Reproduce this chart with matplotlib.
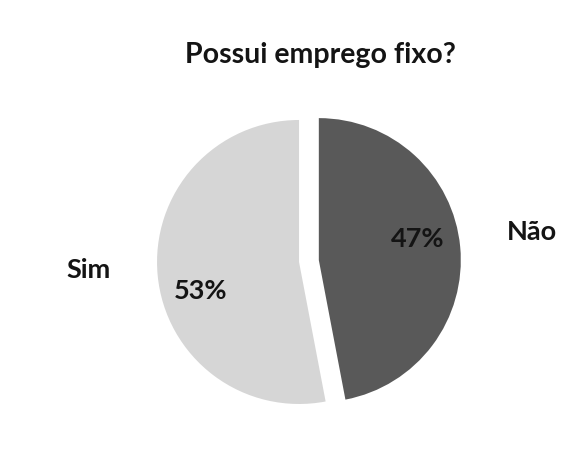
import matplotlib
matplotlib.use("Agg")
import matplotlib.pyplot as plt

categorias = ['Não', 'Sim']
valores = [47, 53]
cores = ['#595959', '#d6d6d6']
titulo = 'Possui emprego fixo?'

plt.rcParams['font.family'] = ['Lato', 'DejaVu Sans']

fig = plt.figure(figsize=(5.61, 4.49), dpi=100)
ax = fig.add_axes([0, 0, 1, 1])

wedges, labels, pcts = ax.pie(valores, labels=categorias, colors=cores,
                              startangle=90, counterclock=False,
                              explode=[0.14, 0], autopct='%.0f%%',
                              pctdistance=0.7, labeldistance=1.33,
                              textprops=dict(fontsize=19.5, fontweight='bold', color='#141414'))

# pequenos ajustes para ficar como no original
for t in labels:
    x, y = t.get_position()
    t.set_position((x, y + 0.07))
for t, dy in zip(pcts, [0.08, -0.14]):
    x, y = t.get_position()
    t.set_position((x, y + dy))

# proporcao: 142 px por unidade
ax.set_xlim(-2.106, 1.845)
ax.set_ylim(-1.317, 1.845)
ax.set_aspect('auto')

ax.text(0.15, 1.46, titulo, ha='center', va='center', fontsize=20.5,
        fontweight='bold', color='#141414')

fig.savefig('out.png', dpi=100)
